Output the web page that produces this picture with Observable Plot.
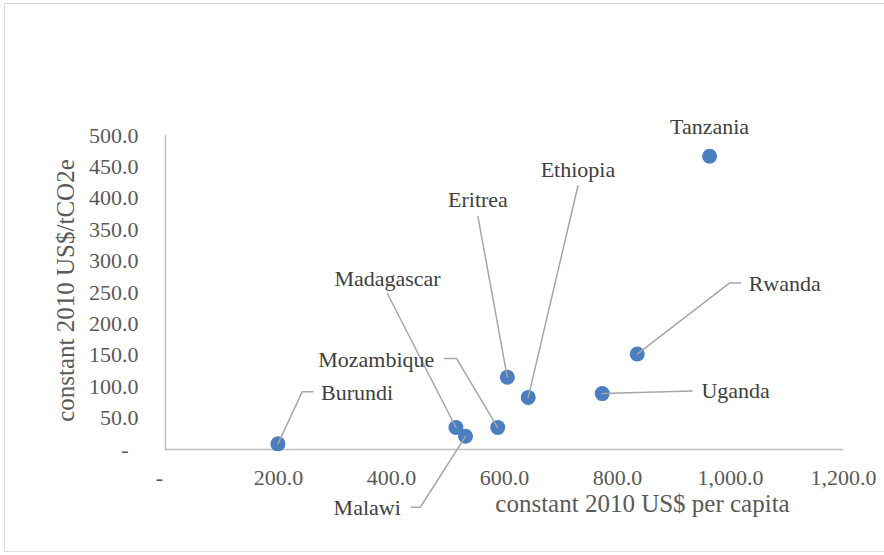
<!DOCTYPE html>
<html><head><meta charset="utf-8">
<script src="https://cdn.jsdelivr.net/npm/d3@7"></script>
<script src="https://cdn.jsdelivr.net/npm/@observablehq/plot@0.6"></script>
<style>
body{margin:0;background:#fff;}
#wrap{position:relative;width:884px;height:555px;overflow:hidden;background:#fff;}
#border{position:absolute;left:4px;top:3px;width:900px;height:549px;border:1.5px solid #d9d9d9;box-sizing:border-box;}
#chart{position:absolute;left:0;top:0;}
</style></head><body>
<div id="wrap"><div id="border"></div><div id="chart"></div></div>
<script>
// Data
const countries = ["Burundi","Madagascar","Malawi","Mozambique","Eritrea","Ethiopia","Uganda","Rwanda","Tanzania"];
const gdpPerCapita = [199, 514, 531, 588, 605, 642, 773, 835, 963];   // constant 2010 US$ per capita
const costPerTon   = [9, 35, 21, 35, 115, 83, 89, 152, 467];         // constant 2010 US$/tCO2e
const xTicks = [0, 200, 400, 600, 800, 1000, 1200];
const yTicks = [0, 50, 100, 150, 200, 250, 300, 350, 400, 450, 500];

// Annotation anchors (data units) for the labels and their leader elbows
const labelAnchor = {
  Burundi:[339, 90], Madagascar:[393, 272], Malawi:[357, -93], Mozambique:[373, 142],
  Eritrea:[553, 398], Ethiopia:[730, 445], Uganda:[1009, 93], Rwanda:[1096, 263], Tanzania:[963, 514]
};
const leaderElbows = {
  Burundi:[[242, 92],[261, 92]],
  Madagascar:[[393, 248]],
  Malawi:[[451, -92],[435, -92]],
  Mozambique:[[515, 145],[494, 145]],
  Eritrea:[[553, 371]],
  Ethiopia:[[730, 420]],
  Uganda:[[932, 93]],
  Rwanda:[[998, 265],[1018, 265]],
  Tanzania:[]
};

const points = countries.map((c, i) => ({country: c, x: gdpPerCapita[i], y: costPerTon[i]}));
const labels = countries.map(c => ({country: c, x: labelAnchor[c][0], y: labelAnchor[c][1]}));
const leaders = [];
points.forEach(p => {
  const el = leaderElbows[p.country];
  if (!el.length) return;
  leaders.push({country: p.country, x: p.x, y: p.y});
  el.forEach(([x, y]) => leaders.push({country: p.country, x, y}));
});

const fmt = d3.format(",.1f");
const axisColor = "#595959";

const chart = Plot.plot({
  width: 884, height: 555,
  marginLeft: 165, marginRight: 41, marginTop: 135, marginBottom: 106,
  x: {domain: [0, 1200]},
  y: {domain: [0, 500]},
  style: {fontFamily: '"Liberation Serif","Times New Roman",serif', fontSize: "22px", background: "transparent", overflow: "visible", color: axisColor},
  marks: [
    Plot.ruleY([0], {stroke: "#bfbfbf", strokeWidth: 1.5}),
    Plot.ruleX([0], {stroke: "#bfbfbf", strokeWidth: 1.5}),
    Plot.axisX(xTicks.filter(d => d !== 0), {tickSize: 0, tickPadding: 20, tickFormat: fmt, fontSize: 22, label: null, fill: axisColor}),
    Plot.axisY(yTicks.filter(d => d !== 0), {tickSize: 0, tickPadding: 27, tickFormat: fmt, fontSize: 22, label: null, fill: axisColor}),
    Plot.text([0], {x: d => d, y: 0, text: () => "-", dx: -6, dy: 28, fontSize: 22, fill: axisColor}),
    Plot.text([0], {x: 0, y: d => d, text: () => "-", dx: -37, textAnchor: "end", fontSize: 22, fill: axisColor}),
    Plot.text(["constant 2010 US$ per capita"], {frameAnchor: "bottom", text: d => d, dx: 138, dy: 62, fontSize: 25, fill: axisColor}),
    Plot.text(["constant 2010 US$/tCO2e"], {frameAnchor: "left", text: d => d, textAnchor: "middle", rotate: -90, dx: -100, dy: -2, fontSize: 25, fill: axisColor}),
    Plot.dot(points, {x: "x", y: "y", r: 7.5, fill: "#4a7ebf", stroke: "none"}),
    Plot.line(leaders, {x: "x", y: "y", z: "country", stroke: "#a6a6a6", strokeWidth: 1.5, curve: "linear"}),
    Plot.text(labels, {x: "x", y: "y", text: "country", fontSize: 22, fill: "#404040"})
  ]
});
document.getElementById("chart").appendChild(chart);
</script>
</body></html>
